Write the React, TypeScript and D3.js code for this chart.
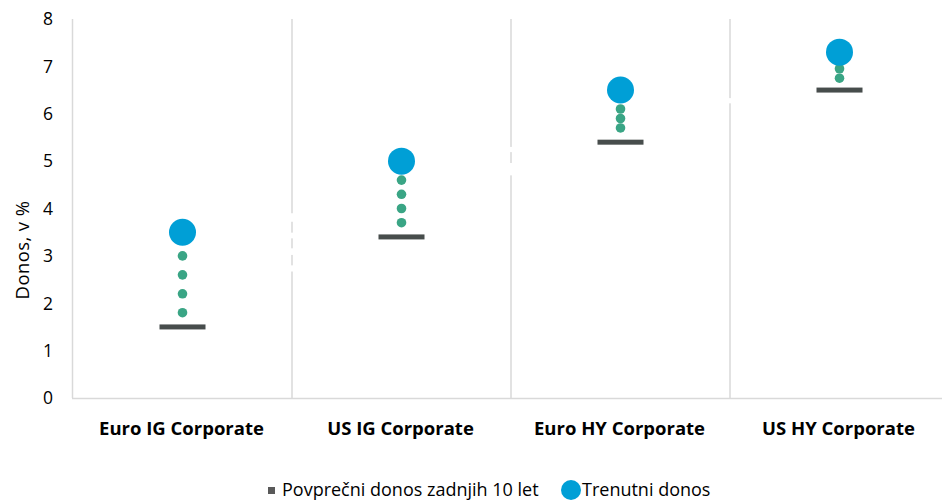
import React from "react";
import * as d3 from "d3";

const categories = ["Euro IG Corporate", "US IG Corporate", "Euro HY Corporate", "US HY Corporate"];
const averageYield = [1.5, 3.4, 5.4, 6.5];
const currentYield = [3.5, 5.0, 6.5, 7.3];
const stepDots = [
  [1.8, 2.2, 2.6, 3.0],
  [3.7, 4.0, 4.3, 4.6],
  [5.7, 5.9, 6.1],
  [6.75, 6.95],
];
// faint white breaks visible on the separators (value ranges)
const separatorBreaks = [
  [[3.9, 3.72], [3.49, 3.37], [3.16, 3.02], [2.8, 2.67]],
  [[5.3, 5.19], [4.96, 4.7]],
  [[6.33, 6.22]],
];
const yTicks = [0, 1, 2, 3, 4, 5, 6, 7, 8];
const legendLabels = ["Povprečni donos zadnjih 10 let", "Trenutni donos"];
const yTitle = "Donos, v %";

const W = 942;
const H = 500;
const FONT = "'Open Sans', 'Noto Sans', sans-serif";

export default function App() {
  const x = d3.scaleBand<string>().domain(categories).range([73, 949]).padding(0);
  const y = d3.scaleLinear().domain([0, 8]).range([398, 19]);
  const bw = x.bandwidth();
  const separators = categories.slice(1).map((c) => x(c) as number);

  return (
    <svg
      width={W}
      height={H}
      style={{ position: "absolute", left: 0, top: 0, background: "#fff" }}
      fontFamily={FONT}
    >
      <line x1={72.5} x2={72.5} y1={y(8)} y2={y(0)} stroke="#d9d9d9" strokeWidth={1.5} />
      <line x1={72} x2={W} y1={y(0) + 0.5} y2={y(0) + 0.5} stroke="#d9d9d9" strokeWidth={1.5} />
      {separators.map((sx, i) => (
        <g key={i}>
          <line x1={sx} x2={sx} y1={y(8)} y2={y(0)} stroke="#d9d9d9" strokeWidth={1.5} />
          {separatorBreaks[i].map((r, j) => (
            <line key={j} x1={sx} x2={sx} y1={y(r[0])} y2={y(r[1])} stroke="#fff" strokeWidth={2.5} />
          ))}
        </g>
      ))}
      {yTicks.map((t) => (
        <text key={t} x={53} y={y(t)} dy="0.36em" textAnchor="end" fontSize={17.5} fill="#000">
          {t}
        </text>
      ))}
      <text
        transform={`translate(29, 250) rotate(-90)`}
        textAnchor="middle"
        fontSize={18.5}
        letterSpacing={0.4}
        fill="#000"
      >
        {yTitle}
      </text>
      {categories.map((c) => (
        <text
          key={c}
          x={(x(c) as number) + bw / 2 - 1}
          y={435}
          textAnchor="middle"
          fontSize={18.5}
          fontWeight="bold"
          fill="#000"
        >
          {c}
        </text>
      ))}
      {categories.map((c, i) => {
        const cx = (x(c) as number) + bw / 2;
        return (
          <g key={c}>
            <rect x={cx - 23} y={y(averageYield[i]) - 2.5} width={46} height={5} fill="#474d4c" />
            {stepDots[i].map((v, j) => (
              <circle key={j} cx={cx} cy={y(v)} r={4.8} fill="#3aa585" />
            ))}
            <circle cx={cx} cy={y(currentYield[i])} r={13.5} fill="#009fd6" />
          </g>
        );
      })}
      <rect x={268} y={487} width={7} height={7} fill="#595959" />
      <text x={282} y={496} fontSize={18} fill="#000">
        {legendLabels[0]}
      </text>
      <circle cx={571} cy={490} r={10} fill="#009fd6" />
      <text x={582} y={496} fontSize={18} fill="#000">
        {legendLabels[1]}
      </text>
    </svg>
  );
}
